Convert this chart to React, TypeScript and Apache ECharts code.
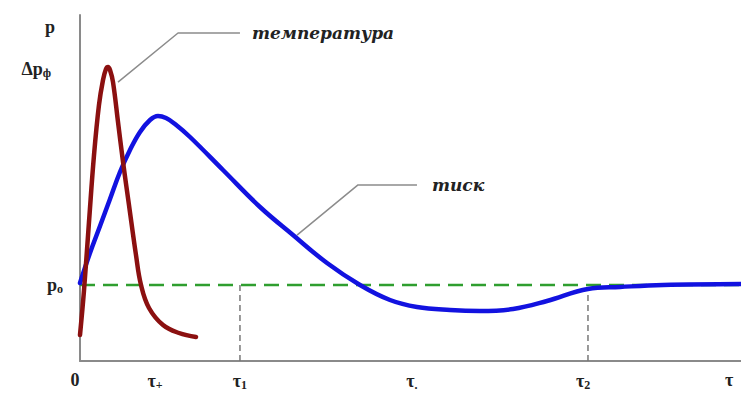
import React, { useEffect, useRef } from 'react';
import * as echarts from 'echarts';

// pressure ("тиск") curve
const pressureX = [0, 1.51, 3.03, 4.54, 6.05, 7.56, 9.08, 10.59, 11.8, 13.01, 14.37, 16.64, 21.63, 27.23, 32.22, 37.37, 42.36, 46.9, 50.98, 55.98, 60.51, 65.51, 70.65, 76.85, 81.69, 88.2, 100];
const pressureY = [22.54, 31.21, 39.02, 46.82, 54.62, 60.98, 66.18, 69.65, 70.81, 70.23, 68.5, 64.74, 55.2, 44.51, 36.42, 28.32, 21.97, 17.63, 15.61, 14.74, 14.45, 15.03, 17.34, 20.81, 21.39, 21.97, 22.25];

// temperature ("температура") curve
const tempX = [0, 0.61, 1.36, 2.12, 2.87, 3.48, 3.93, 4.24, 4.54, 4.99, 5.75, 6.51, 7.41, 8.47, 9.23, 10.44, 12.56, 14.98, 17.55];
const tempY = [7.51, 20.52, 40.17, 59.54, 73.99, 81.21, 84.39, 84.97, 84.1, 80.64, 69.08, 57.51, 45.09, 30.64, 21.97, 15.32, 10.4, 8.09, 6.94];

// reference level p0
const p0 = 22;
const xMin = 0;
const xMax = 100;

// time markers
const tau1 = 24.2;
const tau2 = 76.85;
const tau2Level = 20.8;

// annotation leaders
const tempLeaderX = [5.75, 14.83, 24.2];
const tempLeaderY = [80.6, 94.8, 94.8];
const pressLeaderX = [32.83, 42.06, 50.98];
const pressLeaderY = [36.4, 50.9, 50.9];
const tempLabel = 'температура';
const pressLabel = 'тиск';

// tick labels
const xTickValues = [0, 11.35, 24.2, 50.2, 76.1, 98.2];
const xTickLabels = ['{z|0}', '{m|τ}{s|+}', '{m|τ}{s|1}', '{m|τ}{s|.}', '{m|τ}{s|2}', '{m|τ}'];
const yTickValues = [22, 84.4, 96.5];
const yTickLabels = ['{m|p}{s|o}', '{m|Δp}{s|ф}{d|}', '{pp|p}'];

const zip = (xs: number[], ys: number[]) => xs.map((x, i) => [x, ys[i]]);

const serif = '"Liberation Serif", "DejaVu Serif", serif';
const rich = {
  m: { fontFamily: serif, fontWeight: 'bold', fontSize: 18, color: '#222' },
  s: { fontFamily: serif, fontWeight: 'bold', fontSize: 12, color: '#222', verticalAlign: 'bottom', padding: [8, 0, 0, 0] },
  z: { fontFamily: serif, fontWeight: 'bold', fontSize: 18, color: '#222', padding: [0, 10, 0, 0] },
  d: { padding: [0, 12, 0, 0] },
  pp: { fontFamily: serif, fontWeight: 'bold', fontSize: 18, color: '#222', padding: [0, 8, 0, 0] },
};

export default function App() {
  const ref = useRef<HTMLDivElement>(null);
  useEffect(() => {
    if (!ref.current) return;
    const chart = echarts.init(ref.current, null, { renderer: 'svg' });
    const annFont = {
      fontFamily: '"DejaVu Serif", serif',
      fontStyle: 'italic',
      fontWeight: 'bold',
      fontSize: 17,
      color: '#222',
    };
    chart.setOption({
      animation: false,
      backgroundColor: '#fff',
      grid: { left: 80, right: 0, top: 15, bottom: 33 },
      xAxis: {
        type: 'value',
        min: xMin,
        max: xMax,
        axisLine: { show: true, lineStyle: { color: '#8a8a8a', width: 2 } },
        axisTick: { show: false },
        splitLine: { show: false },
        axisLabel: {
          customValues: xTickValues,
          margin: 10,
          formatter: (v: number) => {
            const i = xTickValues.indexOf(v);
            return i >= 0 ? xTickLabels[i] : '';
          },
          rich,
        },
      },
      yAxis: {
        type: 'value',
        min: 0,
        max: 100,
        axisLine: { show: true, lineStyle: { color: '#8a8a8a', width: 2 } },
        axisTick: { show: false },
        splitLine: { show: false },
        axisLabel: {
          customValues: yTickValues,
          margin: 17,
          formatter: (v: number) => {
            const i = yTickValues.indexOf(v);
            return i >= 0 ? yTickLabels[i] : '';
          },
          rich,
        },
      },
      series: [
        {
          type: 'line',
          data: [[tau1, 0], [tau1, p0]],
          symbol: 'none',
          lineStyle: { color: '#777', width: 1.5, type: [6, 4] },
          z: 1,
        },
        {
          type: 'line',
          data: [[tau2, 0], [tau2, tau2Level]],
          symbol: 'none',
          lineStyle: { color: '#777', width: 1.5, type: [6, 4] },
          z: 1,
        },
        {
          type: 'line',
          data: [[xMin, p0], [xMax, p0]],
          symbol: 'none',
          lineStyle: { color: '#2f9e2f', width: 2.5, type: [15, 8] },
          z: 2,
        },
        {
          type: 'line',
          data: zip(tempLeaderX, tempLeaderY),
          symbol: 'none',
          lineStyle: { color: '#8c8c8c', width: 1.5 },
          endLabel: { show: true, formatter: tempLabel, distance: 12, ...annFont },
          z: 2,
        },
        {
          type: 'line',
          data: zip(pressLeaderX, pressLeaderY),
          symbol: 'none',
          lineStyle: { color: '#8c8c8c', width: 1.5 },
          endLabel: { show: true, formatter: pressLabel, distance: 15, ...annFont },
          z: 2,
        },
        {
          type: 'line',
          data: zip(pressureX, pressureY),
          symbol: 'none',
          smooth: 0.4,
          lineStyle: { color: '#1212e0', width: 4.5, cap: 'round', join: 'round' },
          z: 3,
        },
        {
          type: 'line',
          data: zip(tempX, tempY),
          symbol: 'none',
          smooth: 0.4,
          lineStyle: { color: '#8b1010', width: 4.5, cap: 'round', join: 'round' },
          z: 4,
        },
      ],
    });
    return () => chart.dispose();
  }, []);
  return (
    <div
      ref={ref}
      style={{ position: 'absolute', left: 0, top: 0, width: 741, height: 394, background: '#fff' }}
    />
  );
}
